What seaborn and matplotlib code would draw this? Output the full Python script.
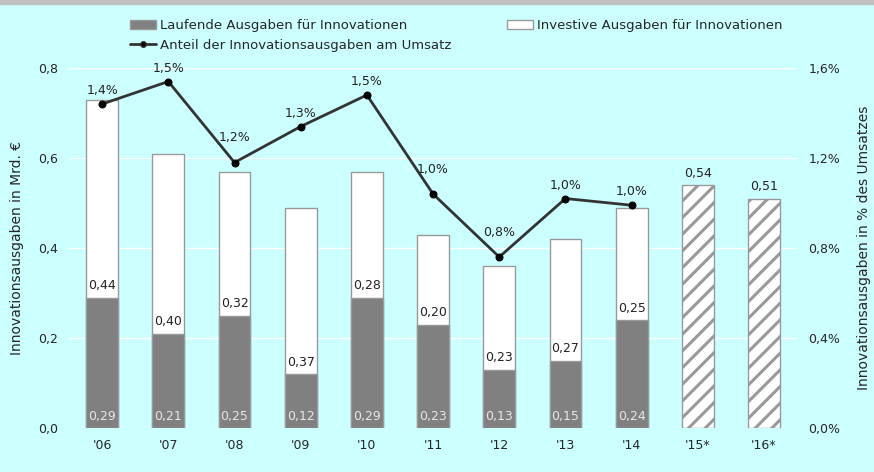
import numpy as np
import pandas as pd
import seaborn as sns
import matplotlib.pyplot as plt
from matplotlib.lines import Line2D
from matplotlib.patches import Patch, Rectangle

years = ["'06", "'07", "'08", "'09", "'10", "'11", "'12", "'13", "'14", "'15*", "'16*"]
laufend = [0.29, 0.21, 0.25, 0.12, 0.29, 0.23, 0.13, 0.15, 0.24, np.nan, np.nan]
investiv = [0.44, 0.40, 0.32, 0.37, 0.28, 0.20, 0.23, 0.27, 0.25, np.nan, np.nan]
plan = [np.nan] * 9 + [0.54, 0.51]
anteil = [1.44, 1.54, 1.18, 1.34, 1.48, 1.04, 0.76, 1.02, 0.99]
anteil_lbl = ["1,4%", "1,5%", "1,2%", "1,3%", "1,5%", "1,0%", "0,8%", "1,0%", "1,0%"]

df = pd.DataFrame({"Jahr": years, "laufend": laufend, "investiv": investiv, "plan": plan})
df["gesamt"] = df["laufend"] + df["investiv"]
df.loc[df["gesamt"].isna(), "gesamt"] = df["plan"]

bg = "#ccffff"
sns.set_style("white")
plt.rcParams["font.family"] = ["DejaVu Sans"]
plt.rcParams["hatch.linewidth"] = 2.2

fig = plt.figure(figsize=(8.74, 4.72), dpi=100, facecolor=bg)
ax = fig.add_axes([0.079, 0.0932, 0.833, 0.7627], facecolor=bg)
fig.patches.append(Rectangle((0, 0.991), 1, 0.009, transform=fig.transFigure,
                             color="#c0c0c0", zorder=0))

# gesamt (weiss) + geplant (schraffiert)
sns.barplot(data=df, x="Jahr", y="gesamt", order=years, color="white", width=0.48,
            edgecolor="#999999", linewidth=1, saturation=1, ax=ax, zorder=2)
for p in ax.patches[9:]:
    p.set_hatch("//")
    p.set_edgecolor("#999999")
sns.barplot(data=df, x="Jahr", y="laufend", order=years, color="#808080", width=0.48,
            edgecolor="#999999", linewidth=1, saturation=1, ax=ax, zorder=3)

ax.set_ylim(0, 0.8)
ax.set_xlim(-0.5, 10.5)
ax.set_yticks(np.arange(0, 0.81, 0.2))
ax.set_yticklabels([f"{v:.1f}".replace(".", ",") for v in np.arange(0, 0.81, 0.2)])
ax.grid(axis="y", color="white", linewidth=1, zorder=0)
ax.set_axisbelow(True)
for s in ax.spines.values():
    s.set_visible(False)
ax.tick_params(length=0, labelsize=9, pad=8)
ax.set_xlabel("")
ax.set_ylabel("Innovationsausgaben in Mrd. €", fontsize=10, labelpad=10)

for i, row in df.iterrows():
    if not np.isnan(row["laufend"]):
        ax.text(i, 0.012, f"{row['laufend']:.2f}".replace(".", ","), ha="center", va="bottom",
                color="#e6e6e6", fontsize=9, zorder=5)
        ax.text(i, row["laufend"] + 0.012, f"{row['investiv']:.2f}".replace(".", ","),
                ha="center", va="bottom", color="#222222", fontsize=9, zorder=5)
    else:
        ax.text(i, row["plan"] + 0.012, f"{row['plan']:.2f}".replace(".", ","),
                ha="center", va="bottom", color="#222222", fontsize=9, zorder=5)

ax2 = ax.twinx()
sns.lineplot(x=np.arange(len(anteil)), y=anteil, color="#333333", linewidth=2, marker="o",
             markersize=5, markerfacecolor="black", markeredgecolor="black", ax=ax2, zorder=6)
ax2.set_ylim(0, 1.6)
ax2.set_yticks(np.arange(0, 1.61, 0.4))
ax2.set_yticklabels([f"{v:.1f}%".replace(".", ",") for v in np.arange(0, 1.61, 0.4)])
for s in ax2.spines.values():
    s.set_visible(False)
ax2.tick_params(length=0, labelsize=9, pad=8)
ax2.set_ylabel("Innovationsausgaben in % des Umsatzes", fontsize=10, rotation=90, labelpad=12)
ax2.yaxis.set_label_position("right")
for i, (v, t) in enumerate(zip(anteil, anteil_lbl)):
    # nach starkem Abfall: Beschriftung hoeher, damit sie nicht auf der Linie sitzt
    steep = i > 0 and anteil[i - 1] - v > 0.2
    ax2.annotate(t, (i, v), xytext=(0, 13 if steep else 5), textcoords="offset points",
                 ha="center", va="bottom", fontsize=9, color="#222222")

handles = [Patch(facecolor="#808080", edgecolor="#999999"),
           Line2D([], [], color="#333333", linewidth=2, marker="o", markersize=4,
                  markerfacecolor="black"),
           Patch(facecolor="white", edgecolor="#999999")]
labels = ["Laufende Ausgaben für Innovationen", "Anteil der Innovationsausgaben am Umsatz",
          "Investive Ausgaben für Innovationen"]
fig.legend(handles, labels, loc="upper left", bbox_to_anchor=(0.135, 0.985), ncol=2,
           frameon=False, prop={"family": "DejaVu Sans", "size": 9.5},
           columnspacing=4.2, handlelength=2.0, handletextpad=0.3, labelspacing=0.5)

fig.savefig("out.png", dpi=100, facecolor=bg)
